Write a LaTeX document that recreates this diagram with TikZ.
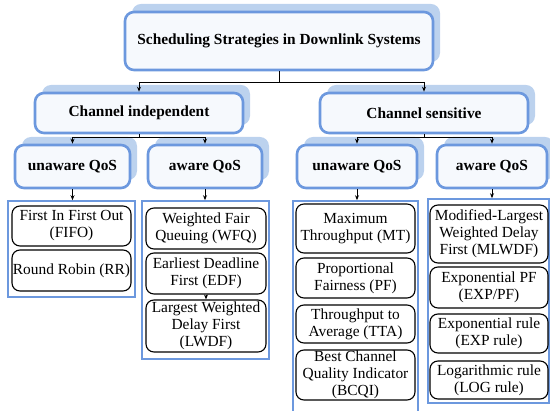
\documentclass[tikz,border=0pt]{standalone}
\usepackage{fontspec}
\setmainfont{Liberation Serif}
\usetikzlibrary{arrows.meta,shadows}
\definecolor{bblue}{RGB}{108,152,222}
\definecolor{shblue}{RGB}{188,210,238}
\definecolor{boxfill}{RGB}{246,249,253}
\begin{document}
\begin{tikzpicture}[x=1pt,y=-1pt,
  mainbox/.style={draw=bblue, line width=2.6pt, rounded corners=9pt, fill=boxfill,
    general shadow={shadow xshift=7pt, shadow yshift=8pt, fill=shblue, draw=none},
    font=\fontsize{15.4}{17}\selectfont\bfseries, inner sep=0pt, align=center},
  leaf/.style={draw=black, line width=1.1pt, rounded corners=8pt, fill=white,
    font=\fontsize{15.4}{17}\selectfont, inner sep=0pt, align=center},
  holder/.style={draw=bblue, line width=1.6pt, inner sep=0pt},
  arr/.style={-{Stealth[length=5pt,width=4pt]}, line width=0.9pt},
  conn/.style={line width=0.9pt}]
\useasboundingbox (0,0) rectangle (550,411);

% level 1
\node[mainbox, minimum width=308pt, minimum height=58pt] (top) at (279,41) {Scheduling Strategies in Downlink Systems};
% level 2
\node[mainbox, minimum width=208pt, minimum height=40pt] (ci) at (139,113) {Channel independent};
\node[mainbox, minimum width=208pt, minimum height=40pt] (cs) at (424,113) {Channel sensitive};
% level 3
\node[mainbox, minimum width=115pt, minimum height=43pt] (ul) at (72.5,166.5) {unaware QoS};
\node[mainbox, minimum width=114pt, minimum height=43pt] (al) at (205,166.5) {aware QoS};
\node[mainbox, minimum width=120pt, minimum height=43pt] (ur) at (357,166.5) {unaware QoS};
\node[mainbox, minimum width=110pt, minimum height=43pt] (ar) at (492,166.5) {aware QoS};

% containers
\node[holder, minimum width=127pt, minimum height=96pt] (c1) at (71.5,249) {};
\node[holder, minimum width=127pt, minimum height=158pt] (c2) at (205.5,280) {};
\node[holder, minimum width=125pt, minimum height=212pt] (c3) at (355.5,307) {};
\node[holder, minimum width=121pt, minimum height=204pt] (c4) at (488.5,301) {};

% leaves
\node[leaf, minimum width=119pt, minimum height=40pt] (fifo) at (71.5,226) {First In First Out\\(FIFO)};
\node[leaf, minimum width=119pt, minimum height=41pt] (rr) at (71.5,270.5) {Round Robin (RR)};

\node[leaf, minimum width=120pt, minimum height=41pt] (wfq) at (206,228.5) {Weighted Fair\\Queuing (WFQ)};
\node[leaf, minimum width=120pt, minimum height=41pt] (edf) at (206,273.5) {Earliest Deadline\\First (EDF)};
\node[leaf, minimum width=120pt, minimum height=52pt] (lwdf) at (206,326) {Largest Weighted\\Delay First\\(LWDF)};

\node[leaf, minimum width=119pt, minimum height=49pt] (mt) at (355.5,228.5) {Maximum\\Throughput (MT)};
\node[leaf, minimum width=119pt, minimum height=40pt] (pf) at (355.5,278) {Proportional\\Fairness (PF)};
\node[leaf, minimum width=119pt, minimum height=38pt] (tta) at (355.5,324) {Throughput to\\Average (TTA)};
\node[leaf, minimum width=119pt, minimum height=50pt] (bcqi) at (355.5,375) {Best Channel\\Quality Indicator\\(BCQI)};

\node[leaf, minimum width=118pt, minimum height=58pt] (mlwdf) at (489,234) {Modified-Largest\\Weighted Delay\\First (MLWDF)};
\node[leaf, minimum width=118pt, minimum height=41pt] (exppf) at (489,287.5) {Exponential PF\\(EXP/PF)};
\node[leaf, minimum width=118pt, minimum height=39pt] (exprule) at (489,333.5) {Exponential rule\\(EXP rule)};
\node[leaf, minimum width=118pt, minimum height=38pt] (logrule) at (489,380) {Logarithmic rule\\(LOG rule)};

% connectors
\coordinate (j1) at (279,82);
\draw[conn] (top.south) -- (j1);
\draw[arr] (j1) -| (ci.north);
\draw[arr] (j1) -| (cs.north);

\coordinate (j2) at (139,137);
\draw[conn] (ci.south) -- (j2);
\draw[arr] (j2) -| (ul.north);
\draw[arr] (j2) -| (al.north);

\coordinate (j3) at (424,137);
\draw[conn] (cs.south) -- (j3);
\draw[arr] (j3) -| (ur.north);
\draw[arr] (j3) -| (ar.north);

\draw[arr] (ul.south) -- (ul.south |- c1.north);
\draw[arr] (al.south) -- (al.south |- c2.north);
\draw[arr] (ur.south) -- (ur.south |- c3.north);
\draw[arr] (ar.south) -- (ar.south |- c4.north);

\draw[arr] (edf.south) -- (lwdf.north);
\end{tikzpicture}
\end{document}
